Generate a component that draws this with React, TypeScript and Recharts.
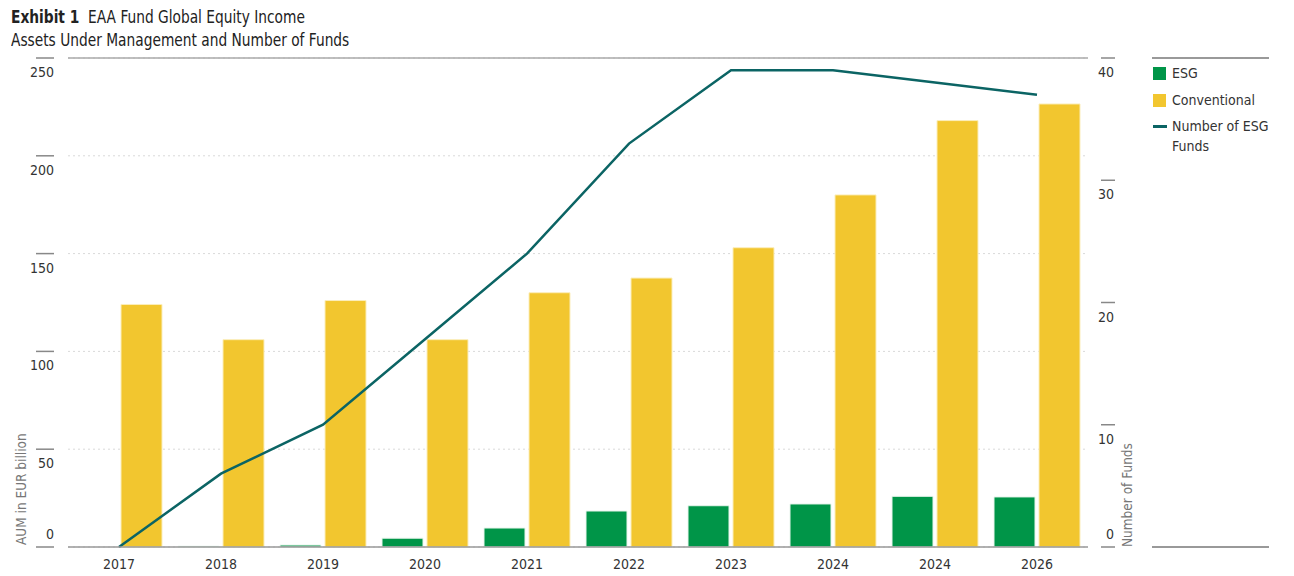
import React from 'react';
import {
  ComposedChart,
  Bar,
  Line,
  XAxis,
  YAxis,
  CartesianGrid,
  ReferenceLine,
} from 'recharts';

const years = ['2017', '2018', '2019', '2020', '2021', '2022', '2023', '2024', '2024', '2026'];
const esgAum = [0, 0.4, 1, 4.5, 9.7, 18.4, 21.1, 22, 25.9, 25.6];
const conventionalAum = [124, 106, 126, 106, 130, 137.5, 153, 180, 218, 226.5];
const esgFundCount = [0, 6, 10, 17, 24, 33, 39, 39, 38, 37];

const aumTicks = [0, 50, 100, 150, 200, 250];
const fundTicks = [0, 10, 20, 30, 40];

const FONT = "'Liberation Sans Narrow', 'DejaVu Sans Condensed', 'Roboto', sans-serif";
const GREEN = '#009548';
const YELLOW = '#f2c62f';
const TEAL = '#0b6464';
const TEXT = '#333';

const data = years.map((year, i) => ({
  year,
  esg: esgAum[i],
  conventional: conventionalAum[i],
  funds: esgFundCount[i],
}));

// tick label sits under its little rule, except the 0 which sits above it
function LeftTick(props: any) {
  const { y, payload } = props;
  const dy = payload.value === 0 ? -8 : 19;
  return (
    <g>
      <line x1={36} x2={54} y1={y} y2={y} stroke="#888" strokeWidth={1.5} />
      <text x={54} y={y + dy} textAnchor="end" fontSize={14} fill={TEXT} fontFamily={FONT}>
        {payload.value}
      </text>
    </g>
  );
}

function RightTick(props: any) {
  const { y, payload } = props;
  const dy = payload.value === 0 ? -8 : 19;
  return (
    <g>
      <line x1={1101} x2={1115} y1={y} y2={y} stroke="#888" strokeWidth={1.5} />
      <text x={1114} y={y + dy} textAnchor="end" fontSize={14} fill={TEXT} fontFamily={FONT}>
        {payload.value}
      </text>
    </g>
  );
}

function AxisTitle({ x, y, text }: { x: number; y: number; text: string }) {
  return (
    <text
      x={x}
      y={y}
      transform={`rotate(-90, ${x}, ${y})`}
      textAnchor="start"
      dominantBaseline="middle"
      fontSize={13.5}
      fill="#777"
      fontFamily={FONT}
    >
      {text}
    </text>
  );
}

function LegendRow({ kind, color, lines, top }: { kind: 'box' | 'line'; color: string; lines: string[]; top: number }) {
  return (
    <div style={{ position: 'absolute', left: 1153, top, display: 'flex', alignItems: 'flex-start' }}>
      {kind === 'box' ? (
        <div style={{ width: 13, height: 13, background: color, marginTop: 4 }} />
      ) : (
        <div style={{ width: 14, height: 2.5, background: color, marginTop: 9 }} />
      )}
      <div
        style={{
          marginLeft: kind === 'box' ? 6 : 5,
          fontSize: 14,
          lineHeight: '20px',
          color: TEXT,
          whiteSpace: 'nowrap',
        }}
      >
        {lines.map((l) => (
          <div key={l}>{l}</div>
        ))}
      </div>
    </div>
  );
}

export default function App() {
  return (
    <div
      style={{
        position: 'fixed',
        left: 0,
        top: 0,
        width: 1294,
        height: 576,
        background: '#fff',
        fontFamily: FONT,
      }}
    >
      <div
        style={{
          position: 'absolute',
          left: 11,
          top: 5,
          fontSize: 18,
          lineHeight: '23px',
          color: '#222',
          whiteSpace: 'nowrap',
          transform: 'scaleX(0.85)',
          transformOrigin: 'left top',
        }}
      >
        <div>
          <b>Exhibit 1</b>&nbsp; EAA Fund Global Equity Income
        </div>
        <div>Assets Under Management and Number of Funds</div>
      </div>

      <div style={{ position: 'absolute', left: 0, top: 0 }}>
        <ComposedChart
          width={1150}
          height={576}
          data={data}
          margin={{ top: 58, right: 0, bottom: 0, left: 0 }}
          barCategoryGap={8}
          barGap={4}
        >
          <CartesianGrid yAxisId="left" vertical={false} stroke="#d9d9d9" strokeDasharray="2 3" />
          <XAxis
            dataKey="year"
            height={29}
            tickLine={false}
            axisLine={{ stroke: '#999', strokeWidth: 1.5 }}
            tickMargin={6}
            tick={{ fontSize: 14, fill: TEXT, fontFamily: FONT }}
          />
          <YAxis
            yAxisId="left"
            orientation="left"
            width={68}
            domain={[0, 250]}
            ticks={aumTicks}
            interval={0}
            axisLine={false}
            tickLine={false}
            tick={<LeftTick />}
            label={{
              content: ({ viewBox }: any) => (
                <AxisTitle x={viewBox.x + 22} y={viewBox.y + viewBox.height - 2} text="AUM in EUR billion" />
              ),
            }}
          />
          <YAxis
            yAxisId="right"
            orientation="right"
            width={62}
            domain={[0, 40]}
            ticks={fundTicks}
            interval={0}
            axisLine={false}
            tickLine={false}
            tick={<RightTick />}
            label={{
              content: ({ viewBox }: any) => (
                <AxisTitle x={viewBox.x + 40} y={viewBox.y + viewBox.height} text="Number of Funds" />
              ),
            }}
          />
          <ReferenceLine yAxisId="left" y={250} stroke="#aaa" strokeWidth={1.5} />
          <Bar yAxisId="left" dataKey="esg" name="ESG" fill={GREEN} stroke="#e8f5ec" strokeWidth={1} isAnimationActive={false} />
          <Bar
            yAxisId="left"
            dataKey="conventional"
            name="Conventional"
            fill={YELLOW}
            stroke="#fbeebb"
            strokeWidth={1}
            isAnimationActive={false}
          />
          <Line
            yAxisId="right"
            type="linear"
            dataKey="funds"
            name="Number of ESG Funds"
            stroke={TEAL}
            strokeWidth={2.5}
            dot={false}
            activeDot={false}
            isAnimationActive={false}
          />
        </ComposedChart>
      </div>

      <div style={{ position: 'absolute', left: 1152, top: 57, width: 117, height: 1.5, background: '#999' }} />
      <LegendRow kind="box" color={GREEN} lines={['ESG']} top={63} />
      <LegendRow kind="box" color={YELLOW} lines={['Conventional']} top={90} />
      <LegendRow kind="line" color={TEAL} lines={['Number of ESG', 'Funds']} top={116} />
      <div style={{ position: 'absolute', left: 1152, top: 546, width: 117, height: 1.5, background: '#999' }} />
    </div>
  );
}
